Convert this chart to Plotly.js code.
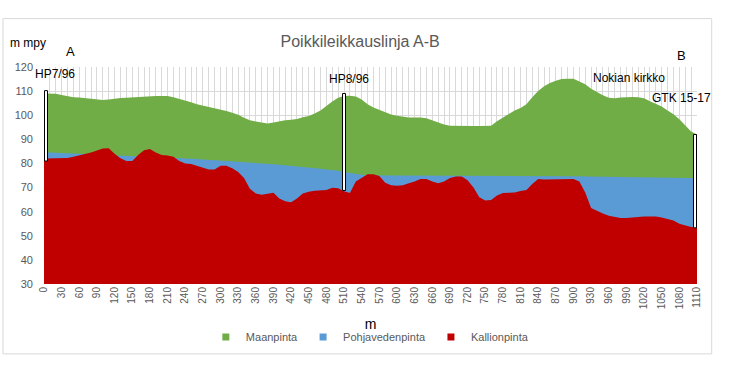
<!DOCTYPE html>
<html><head><meta charset="utf-8">
<script src="https://cdn.plot.ly/plotly-3.0.1.min.js"></script>
<style>html,body{margin:0;padding:0;background:#fff}#chart{width:735px;height:367px}</style>
</head><body><div id="chart"></div>
<script>
// distance along the line (m), every 10 m
const distances = [0,10,20,30,40,50,60,70,80,90,100,110,120,130,140,150,160,170,180,190,200,210,220,230,240,250,260,270,280,290,300,310,320,330,340,350,360,370,380,390,400,410,420,430,440,450,460,470,480,490,500,510,520,530,540,550,560,570,580,590,600,610,620,630,640,650,660,670,680,690,700,710,720,730,740,750,760,770,780,790,800,810,820,830,840,850,860,870,880,890,900,910,920,930,940,950,960,970,980,990,1000,1010,1020,1030,1040,1050,1060,1070,1080,1090,1100,1110];

const maanpinta = [109,109,108.9,108.4,107.8,107.5,107.3,107,106.8,106.6,106.3,106.5,106.9,107.1,107.2,107.4,107.6,107.9,108,108,108,108,107.5,106.9,106.2,105.4,104.6,104.1,103.6,103,102.5,101.8,101,100.2,99,97.9,97.4,96.9,96.6,97,97.6,97.9,98.1,98.4,99.2,99.7,100.7,102,103.8,105.7,107.2,108,108.1,107.8,106.5,104.5,103.2,102.3,101.3,100.3,99.8,99.3,99.1,99.1,99.1,98.7,97.8,96.8,96.2,95.6,95.5,95.5,95.5,95.5,95.5,95.5,95.6,97.5,99,100.5,102,103,104.5,107.5,110,112,113.4,114.3,115,115.1,115.1,114,112.8,111,109.5,108.3,107.2,107,107.3,107.5,107.6,107.5,107,105.8,104.8,103.6,102,100.4,98.3,96,93.3,92];

const pohjavedenpinta = [84.6,84.5,84.4,84.3,84.2,84.1,84,83.9,83.7,83.6,83.5,83.4,83.3,83.2,83.1,83,82.9,82.8,82.7,82.6,82.5,82.4,82.3,82.2,82.1,81.9,81.8,81.6,81.5,81.3,81.2,81,80.9,80.7,80.5,80.4,80.2,80,79.8,79.7,79.5,79.3,79,78.8,78.5,78.3,78,77.8,77.5,77.3,77,76.5,76,75.6,75.3,75.1,75,75,75,75,75,75,75,75,75,75,75,75,75,75,75,75,75,75,75,75,75,75,75,75,75,74.95,74.9,74.9,74.85,74.8,74.8,74.75,74.7,74.7,74.65,74.6,74.6,74.55,74.5,74.5,74.45,74.4,74.4,74.35,74.3,74.3,74.25,74.2,74.2,74.15,74.1,74.1,74.05,74,74,73.9];

const kallionpinta = [82,82,82.2,82.2,82.3,82.8,83.3,83.7,84.5,85.4,86.2,86.3,84,82.2,81,81,83.5,85.5,86,84.5,83.5,83.3,82.8,81,80,79.8,79,78,77.5,77.5,79,79,78,76.5,74,69.5,67.5,67,67.5,67.8,65.5,64.3,63.9,65.5,67.5,68.3,68.7,68.8,69,69.9,69.7,68.5,67.7,72.5,74,75.5,75.5,74.8,72,71,70.8,71,71.8,72.5,73.6,73.6,72.5,71.8,72.5,74,74.6,74.6,73,70,66,64.6,64.8,66.7,67.7,67.8,68,68.6,69,71.5,73.6,73.3,73.3,73.5,73.6,73.6,73.5,72.5,68,61.5,60.2,59.2,58.3,57.8,57.4,57.4,57.7,58,58,58,58,57.6,57,56.3,55,54.2,53.6,53.5];

const seriesNames = ["Maanpinta","Pohjavedenpinta","Kallionpinta"];
const seriesColors = ["#70ad47","#5b9bd5","#c00000"];

const xTickVals = [];
for (let v = 0; v <= 1110; v += 30) xTickVals.push(v);

// boreholes
const wellNames = ["HP7/96","HP8/96","GTK 15-17"];
const wellX = [0, 510, 1110];
const wellTop = [110.2, 109, 92];
const wellBottom = [81, 68.8, 53.3];

const font = "Liberation Sans, Arial, sans-serif";
const gray = "#595959";

const series = [maanpinta, pohjavedenpinta, kallionpinta];
const traces = series.map((ys, i) => ({
  x: distances, y: ys, type: "scatter", mode: "lines",
  line: {width: 0, color: seriesColors[i]}, fill: "tozeroy",
  fillcolor: seriesColors[i], showlegend: false, hoverinfo: "skip", name: seriesNames[i]
}));
seriesNames.forEach((n, i) => traces.push({
  x: [null], y: [null], type: "scatter", mode: "markers", name: n,
  marker: {symbol: "square", size: 7, color: seriesColors[i]}
}));

const shapes = wellX.map((wx, i) => ({
  type: "rect", xref: "x", yref: "y", xsizemode: "pixel", xanchor: wx,
  x0: i === 0 ? 0.5 : (i === wellX.length - 1 ? -3.5 : -1.5),
  x1: i === 0 ? 3.5 : (i === wellX.length - 1 ? -0.5 : 1.5),
  y0: wellBottom[i], y1: wellTop[i],
  line: {color: "#000", width: 1}, fillcolor: "#fff", layer: "above"
}));
shapes.push({type: "rect", xref: "paper", yref: "paper",
  x0: -0.0628, x1: 1.0225, y0: -0.322, y1: 1.223,
  line: {color: "#d9d9d9", width: 1}, fillcolor: "rgba(0,0,0,0)", layer: "below"});

const annFont = {family: font, size: 12, color: "#000"};
const big = {family: font, size: 13, color: "#000"};
function pann(text, px, py, f) {
  return {text: text, xref: "paper", yref: "paper", x: (px - 44) / 653, y: (284 - py) / 217.5,
          xanchor: "center", yanchor: "middle", showarrow: false, font: f};
}
const annotations = [
  {text: wellNames[0], x: 19, y: 117.3, xref: "x", yref: "y", showarrow: false, font: annFont},
  {text: wellNames[1], x: 518, y: 114.9, xref: "x", yref: "y", showarrow: false, font: annFont},
  {text: "Nokian kirkko", x: 995, y: 115.3, xref: "x", yref: "y", showarrow: false, font: annFont},
  {text: wellNames[2], x: 1084, y: 107, xref: "x", yref: "y", showarrow: false, font: annFont},
  pann("A", 70, 51, big),
  pann("B", 681, 55, big),
  pann("m mpy", 28, 42, annFont)
];

const layout = {
  width: 735, height: 367,
  margin: {l: 44, r: 38, t: 66.5, b: 83},
  paper_bgcolor: "#fff", plot_bgcolor: "#fff",
  font: {family: font, color: gray},
  title: {text: "Poikkileikkauslinja A-B", x: 0.49, xanchor: "center", y: 0.886, yanchor: "middle",
          font: {family: font, size: 16, color: gray}},
  xaxis: {range: [0, 1110], tickvals: xTickVals, ticktext: xTickVals.map(String), tickangle: -90,
          showgrid: true, gridcolor: "#d9d9d9", gridwidth: 1,
          minor: {dtick: 10, tick0: 0, showgrid: true, gridcolor: "#d9d9d9", gridwidth: 1},
          zeroline: false, showline: false, ticks: "", tickfont: {family: font, size: 10, color: gray},
          title: {text: "m", font: {family: font, size: 14, color: "#000"}, standoff: 10},
          automargin: false, layer: "below traces"},
  yaxis: {range: [30, 120], dtick: 10, tick0: 30, showgrid: true, gridcolor: "#d9d9d9",
          zeroline: false, showline: false, ticks: "", ticklabelstandoff: 10,
          tickfont: {family: font, size: 11, color: gray},
          automargin: false, layer: "below traces"},
  legend: {orientation: "h", x: 0.499, xanchor: "center", y: -0.244, yanchor: "middle",
           font: {family: font, size: 11, color: gray}, itemwidth: 30, traceorder: "normal"},
  shapes: shapes, annotations: annotations, showlegend: true
};

Plotly.newPlot("chart", traces, layout, {displayModeBar: false, staticPlot: true});
</script></body></html>
